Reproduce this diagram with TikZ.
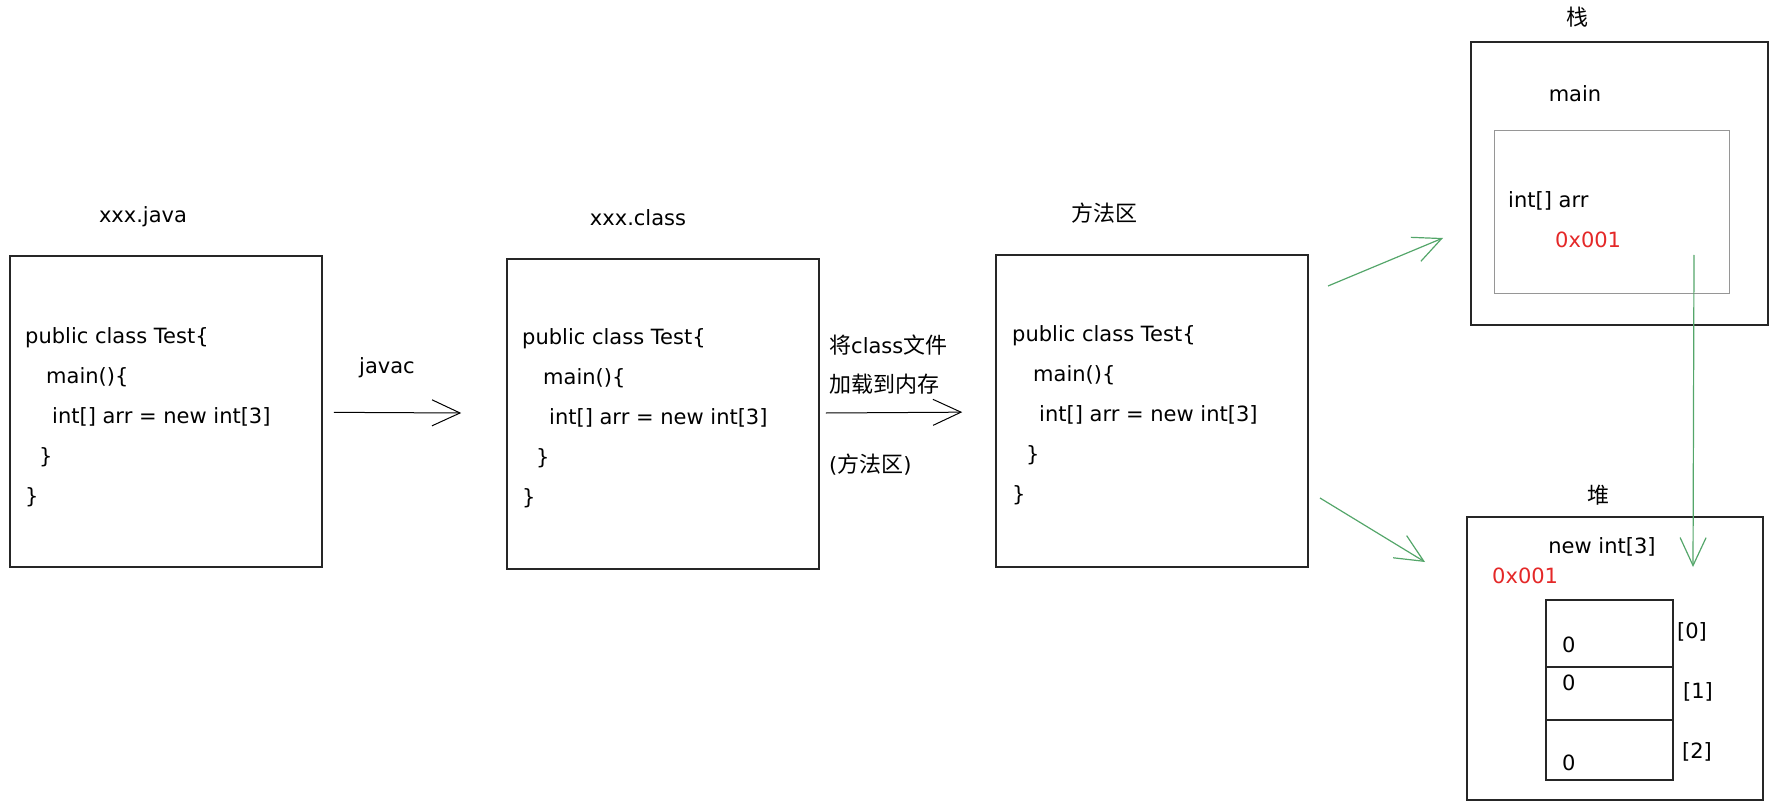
\documentclass[tikz,border=0pt]{standalone}
\usepackage{fontspec}
\setmainfont{DejaVu Sans}
\newfontfamily\cjk{Noto Sans CJK SC}
\usetikzlibrary{arrows.meta}

\definecolor{vert}{RGB}{84,166,106}
\definecolor{rouge}{RGB}{228,40,40}
\definecolor{gris}{RGB}{150,150,150}

\tikzset{
  boite/.style={draw=black!85, line width=1.6pt, inner sep=0pt},
  texte/.style={inner sep=0pt, font=\fontsize{21}{24}\selectfont},
  code/.style={align=left, anchor=west, inner sep=0pt, font=\fontsize{21}{40}\selectfont},
  fleche/.style={line width=1pt, -{Straight Barb[length=28pt, width=26pt]}},
  flechev/.style={draw=vert, line width=1.2pt, -{Straight Barb[length=28pt, width=26pt]}},
}

\newcommand{\codetest}{public class Test\{\\
\hspace*{21pt}main()\{\\
\hspace*{27pt}int[] arr = new int[3]\\
\hspace*{14pt}\}\\
\}}
\newcommand{\zh}[1]{{\cjk\fontsize{22}{24}\selectfont #1}}

\begin{document}
\begin{tikzpicture}[x=1pt, y=-1pt]
\useasboundingbox (0,0) rectangle (1773,810);

% Fichiers
\node[boite, minimum width=312pt, minimum height=311pt] (java) at (166,411.5) {};
\node[texte] (tjava) at (143,217) {xxx.java};
\node[code] (cjava) at (25,417) {\codetest};

\node[boite, minimum width=312pt, minimum height=310pt] (class) at (663,414) {};
\node[texte] (tclass) at (638,218) {xxx.class};
\node[code] (cclass) at (522,418) {\codetest};

% Méthode
\node[boite, minimum width=312pt, minimum height=312pt] (methode) at (1152,411) {};
\node[texte] (tmethode) at (1104,213) {\zh{方法区}};
\node[code] (cmethode) at (1012,415) {\codetest};

% Flèches noires
\draw[fleche, shorten <=11pt, shorten >=45pt] (java) -- (class);
\node[texte] (javac) at (387,368) {javac};
\draw[fleche, shorten <=6pt, shorten >=33pt] (class) -- (methode);
\node[texte, anchor=west] (charge1) at (829,345) {\zh{将}class\zh{文件}};
\node[texte, anchor=west] (charge2) at (829,384) {\zh{加载到内存}};
\node[texte, anchor=west] (charge3) at (829,465) {(\zh{方法区})};

% Pile
\node[boite, minimum width=297pt, minimum height=283pt] (pile) at (1619.5,183.5) {};
\node[texte] (tpile) at (1577,17) {\zh{栈}};
\node[texte] (main) at (1575,94) {main};
\node[draw=gris, line width=1pt, minimum width=235pt, minimum height=163pt] (cadre) at (1611.5,212.5) {};
\node[texte, anchor=west] (arr) at (1508,201) {int[] arr};
\node[texte, anchor=west, text=rouge] (adr1) at (1555,240) {0x001};

% Tas
\node[boite, minimum width=296pt, minimum height=283pt] (tas) at (1615,658.5) {};
\node[texte] (ttas) at (1598,495) {\zh{堆}};
\node[texte] (newint) at (1602,547) {new int[3]};
\node[texte, anchor=west, text=rouge] (adr2) at (1492,576) {0x001};

% Tableau
\node[boite, line width=1.2pt, minimum width=127pt, minimum height=67pt] (c0) at (1609.5,633.5) {};
\node[boite, line width=1.2pt, minimum width=127pt, minimum height=53pt] (c1) at (1609.5,693.5) {};
\node[boite, line width=1.2pt, minimum width=127pt, minimum height=60pt] (c2) at (1609.5,750) {};
\node[texte, anchor=west] (v0) at (1562,645) {0};
\node[texte, anchor=west] (v1) at (1562,683) {0};
\node[texte, anchor=west] (v2) at (1562,763) {0};
\node[texte] (i0) at (1692,632) {[0]};
\node[texte] (i1) at (1698,692) {[1]};
\node[texte] (i2) at (1697,752) {[2]};

% Flèches vertes
\coordinate (d1) at (1328,286);
\coordinate (a1) at (1443,238);
\coordinate (d2) at (1320,498);
\coordinate (a2) at (1425,562);
\coordinate (d3) at (1694,255);
\coordinate (a3) at (1693,567);
\draw[flechev] (d1) -- (a1);
\draw[flechev] (d2) -- (a2);
\draw[flechev] (d3) -- (a3);

\end{tikzpicture}
\end{document}
